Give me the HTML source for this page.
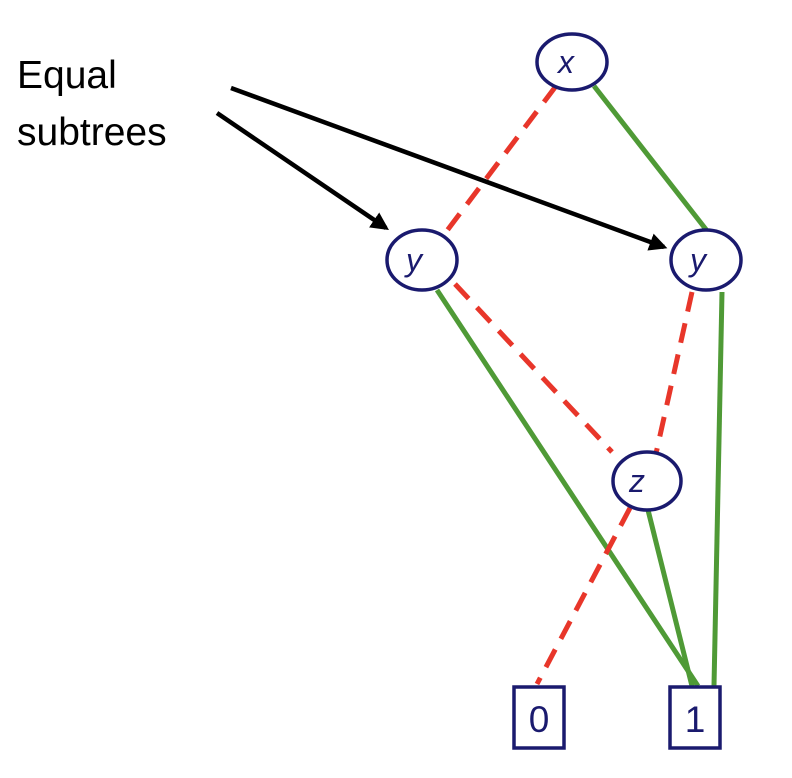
<!DOCTYPE html>
<html><head><meta charset="utf-8"><style>
html,body{margin:0;padding:0;background:#fff;}
svg{display:block;}
text{font-family:"Liberation Sans",sans-serif;}
</style></head><body>
<svg width="792" height="778" viewBox="0 0 792 778">
<defs>
<marker id="ah" markerWidth="4" markerHeight="4" refX="3.2" refY="2" orient="auto" markerUnits="strokeWidth">
<path d="M0,0 L4,2 L0,4 z" fill="#000"/>
</marker>
</defs>
<g>
<text x="17" y="88" font-size="39" fill="#000">Equal</text>
<text x="17" y="145" font-size="39" fill="#000">subtrees</text>
</g>
<g fill="none" stroke-width="5">
<line x1="556" y1="86" x2="440" y2="240" stroke="#e8362a" stroke-dasharray="20,12"/>
<line x1="594" y1="86" x2="708" y2="232" stroke="#4f9a36"/>
<line x1="455" y1="284" x2="612" y2="452" stroke="#e8362a" stroke-dasharray="20,12"/>
<line x1="437" y1="290" x2="698" y2="686" stroke="#4f9a36"/>
<line x1="692" y1="292" x2="655" y2="458" stroke="#e8362a" stroke-dasharray="20,12"/>
<line x1="722" y1="292" x2="714" y2="686" stroke="#4f9a36"/>
<line x1="630" y1="508" x2="537" y2="684" stroke="#e8362a" stroke-dasharray="20,12"/>
<line x1="648" y1="510" x2="692" y2="686" stroke="#4f9a36"/>
<line x1="217" y1="113" x2="386" y2="228" stroke="#000" stroke-width="4.5" marker-end="url(#ah)"/>
<line x1="231" y1="88" x2="664" y2="247" stroke="#000" stroke-width="4.5" marker-end="url(#ah)"/>
</g>
<g fill="#fff" stroke="#1a1a6e" stroke-width="3.5">
<ellipse cx="572" cy="62" rx="35" ry="28"/>
<ellipse cx="422" cy="260" rx="35" ry="30"/>
<ellipse cx="706" cy="260" rx="35" ry="30"/>
<ellipse cx="647" cy="481" rx="34" ry="29"/>
<rect x="514" y="687" width="50" height="61"/>
<rect x="670" y="687" width="50" height="61"/>
</g>
<g fill="#1a1a6e" font-size="32" text-anchor="middle">
<text x="566" y="73" font-style="italic">x</text>
<text x="414" y="271" font-style="italic">y</text>
<text x="698" y="271" font-style="italic">y</text>
<text x="637" y="492" font-style="italic">z</text>
<text x="539" y="732" font-size="37">0</text>
<text x="695" y="732" font-size="37">1</text>
</g>
</svg>
</body></html>
